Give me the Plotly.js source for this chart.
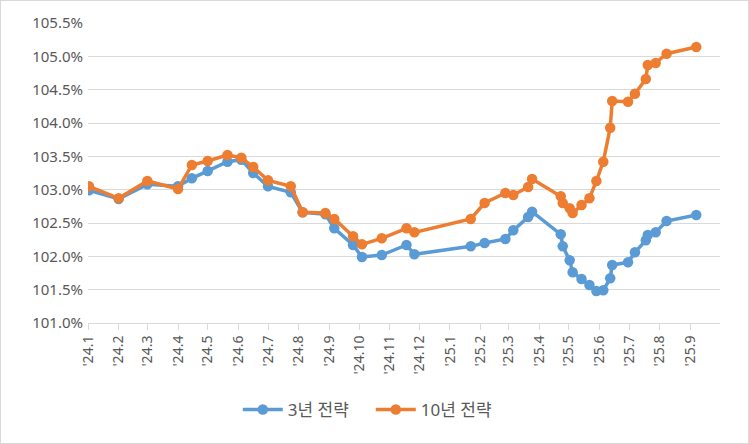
<!DOCTYPE html>
<html>
<head>
<meta charset="utf-8">
<script src="https://cdn.plot.ly/plotly-3.0.1.min.js"></script>
<style>
  html, body { margin: 0; padding: 0; background: #fff; }
  #frame { width: 749px; height: 444px; box-sizing: border-box; border: 1px solid #d9d9d9; }
  #chart { width: 747px; height: 442px; }
</style>
</head>
<body>
<div id="frame"><div id="chart"></div></div>
<script>
const dates = [
  '2024-01-02','2024-02-01','2024-03-01','2024-04-01','2024-04-15','2024-05-01','2024-05-21',
  '2024-06-04','2024-06-16','2024-07-01','2024-07-24','2024-08-05','2024-08-28','2024-09-06',
  '2024-09-25','2024-10-04','2024-10-24','2024-11-18','2024-11-26','2025-01-22','2025-02-05',
  '2025-02-26','2025-03-06','2025-03-21','2025-03-25','2025-04-23','2025-04-25','2025-05-02',
  '2025-05-05','2025-05-14','2025-05-22','2025-05-29','2025-06-05','2025-06-12','2025-06-14',
  '2025-06-30','2025-07-07','2025-07-18','2025-07-20','2025-07-28','2025-08-08','2025-09-07'
];
const strategy3y = [
  102.99,102.86,103.08,103.05,103.17,103.28,103.42,
  103.45,103.25,103.05,102.96,102.66,102.63,102.42,
  102.17,101.99,102.02,102.17,102.03,102.15,102.20,
  102.26,102.39,102.59,102.67,102.33,102.15,101.94,
  101.76,101.66,101.57,101.48,101.49,101.67,101.87,
  101.91,102.06,102.24,102.32,102.36,102.53,102.62
];
const strategy10y = [
  103.05,102.87,103.13,103.01,103.37,103.43,103.52,
  103.48,103.34,103.14,103.05,102.66,102.65,102.56,
  102.30,102.18,102.27,102.42,102.36,102.56,102.80,
  102.95,102.92,103.04,103.16,102.90,102.80,102.72,
  102.65,102.77,102.87,103.13,103.42,103.93,104.33,
  104.32,104.44,104.66,104.87,104.90,105.04,105.14
];
const tickDates = [
  '2024-01-01','2024-02-01','2024-03-01','2024-04-01','2024-05-01','2024-06-01','2024-07-01',
  '2024-08-01','2024-09-01','2024-10-01','2024-11-01','2024-12-01','2025-01-01','2025-02-01',
  '2025-03-01','2025-04-01','2025-05-01','2025-06-01','2025-07-01','2025-08-01','2025-09-01'
];
const tickLabels = [
  "'24.1","'24.2","'24.3","'24.4","'24.5","'24.6","'24.7","'24.8","'24.9","'24.10","'24.11","'24.12",
  "'25.1","'25.2","'25.3","'25.4","'25.5","'25.6","'25.7","'25.8","'25.9"
];
const seriesNames = ['3년 전략', '10년 전략'];

const FONT = '"Noto Sans", "Noto Sans CJK KR", sans-serif';

const traces = [
  {
    x: dates, y: strategy3y, name: seriesNames[0], type: 'scatter', mode: 'lines+markers',
    line: {color: '#5B9BD5', width: 3.5},
    marker: {color: '#5B9BD5', size: 10.5}
  },
  {
    x: dates, y: strategy10y, name: seriesNames[1], type: 'scatter', mode: 'lines+markers',
    line: {color: '#ED7D31', width: 3.5},
    marker: {color: '#ED7D31', size: 10.5}
  }
];

const layout = {
  width: 747, height: 442,
  margin: {l: 87, r: 28, t: 22, b: 120, autoexpand: false},
  paper_bgcolor: '#fff', plot_bgcolor: '#fff',
  font: {family: FONT, size: 14, color: '#595959'},
  showlegend: true,
  legend: {
    orientation: 'h', x: 0.237, xanchor: 'left', y: -0.29, yanchor: 'middle',
    font: {family: FONT, size: 17, color: '#595959'},
    entrywidth: 78, entrywidthmode: 'pixels',
    itemwidth: 40
  },
  hovermode: false,
  xaxis: {
    type: 'date',
    range: ['2024-01-01', '2025-10-01'],
    tickmode: 'array', tickvals: tickDates, ticktext: tickLabels,
    tickangle: -90,
    ticks: 'outside', ticklen: 6, tickcolor: '#d9d9d9', tickwidth: 1,
    showline: true, linecolor: '#d9d9d9', linewidth: 1,
    showgrid: false, zeroline: false,
    tickfont: {family: FONT, size: 14, color: '#595959'}
  },
  yaxis: {
    range: [101.0, 105.5],
    tickmode: 'linear', tick0: 101.0, dtick: 0.5,
    tickformat: '.1f', ticksuffix: '%',
    showgrid: true, gridcolor: '#d9d9d9', gridwidth: 1,
    zeroline: false, showline: false, ticks: '',
    ticklabelstandoff: 4,
    tickfont: {family: FONT, size: 15, color: '#595959'}
  }
};

Plotly.newPlot('chart', traces, layout, {displayModeBar: false, staticPlot: true});
</script>
</body>
</html>
